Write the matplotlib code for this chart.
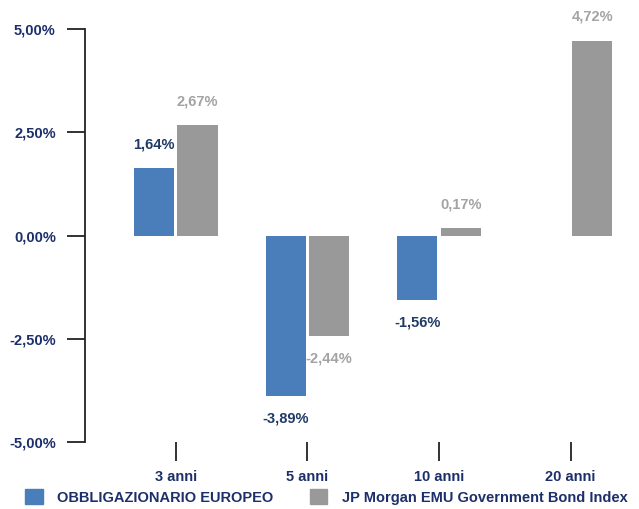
import matplotlib
matplotlib.use("Agg")
import matplotlib.pyplot as plt
import numpy as np
from matplotlib.patches import Patch

categories = ["3 anni", "5 anni", "10 anni", "20 anni"]
fund = [1.64, -3.89, -1.56, None]
index = [2.67, -2.44, 0.17, 4.72]
series_names = ["OBBLIGAZIONARIO EUROPEO", "JP Morgan EMU Government Bond Index"]
yticks = [-5, -2.5, 0, 2.5, 5]

plt.rcParams['font.family'] = ['Liberation Sans', 'DejaVu Sans']
plt.rcParams['font.weight'] = 'bold'

BLUE = "#4a7ebb"
GRAY = "#999999"
NAVY = "#1c2f6b"
BLUE_LBL = "#1f3a64"
GRAY_LBL = "#a3a3a3"

fig = plt.figure(figsize=(6.39, 5.09), dpi=100)
ax = fig.add_axes([85/639, 67/509, (639-85)/639, (442-29)/509])

x = np.arange(len(categories))
w = 0.305
off = 0.165

def fmt(v):
    return f"{v:.2f}%".replace(".", ",")

for i, v in enumerate(fund):
    if v is None:
        continue
    ax.bar(x[i] - off, v, width=w, color=BLUE, zorder=2)
    ax.annotate(fmt(v), (x[i] - off, v), xytext=(0, 17 if v > 0 else -16),
                textcoords="offset points", ha="center", va="center",
                color=BLUE_LBL, fontsize=10.5, fontweight="bold")
for i, v in enumerate(index):
    if v is None:
        continue
    ax.bar(x[i] + off, v, width=w, color=GRAY, zorder=2)
    ax.annotate(fmt(v), (x[i] + off, v), xytext=(0, 17 if v > 0 else -16),
                textcoords="offset points", ha="center", va="center",
                color=GRAY_LBL, fontsize=10.5, fontweight="bold")

ax.set_xlim(-0.69, 3.52)
ax.set_ylim(-5, 5)
for s in ["top", "right", "bottom"]:
    ax.spines[s].set_visible(False)
ax.spines["left"].set_color("#222222")
ax.spines["left"].set_linewidth(1.3)

ax.set_yticks(yticks)
ax.set_yticklabels([fmt(v) for v in yticks], color=NAVY, fontsize=10.5, fontweight="bold")
ax.tick_params(axis="y", length=13, width=1.3, color="#222222", pad=8)
ax.set_xticks(x)
ax.set_xticklabels(categories, color=NAVY, fontsize=10.5, fontweight="bold")
ax.tick_params(axis="x", length=14, width=1.3, color="#222222", pad=6)

handles = [Patch(facecolor=BLUE, edgecolor=BLUE), Patch(facecolor=GRAY, edgecolor=GRAY)]
leg = fig.legend(handles, series_names, loc="center left", bbox_to_anchor=(0.03, (509-497)/509),
                 ncol=2, frameon=False, fontsize=10.5, handlelength=1.2, handleheight=1.2,
                 columnspacing=2.5, handletextpad=1.0, borderaxespad=0)
for t in leg.get_texts():
    t.set_color(NAVY)
    t.set_fontweight("bold")

fig.savefig("out.png", dpi=100)
